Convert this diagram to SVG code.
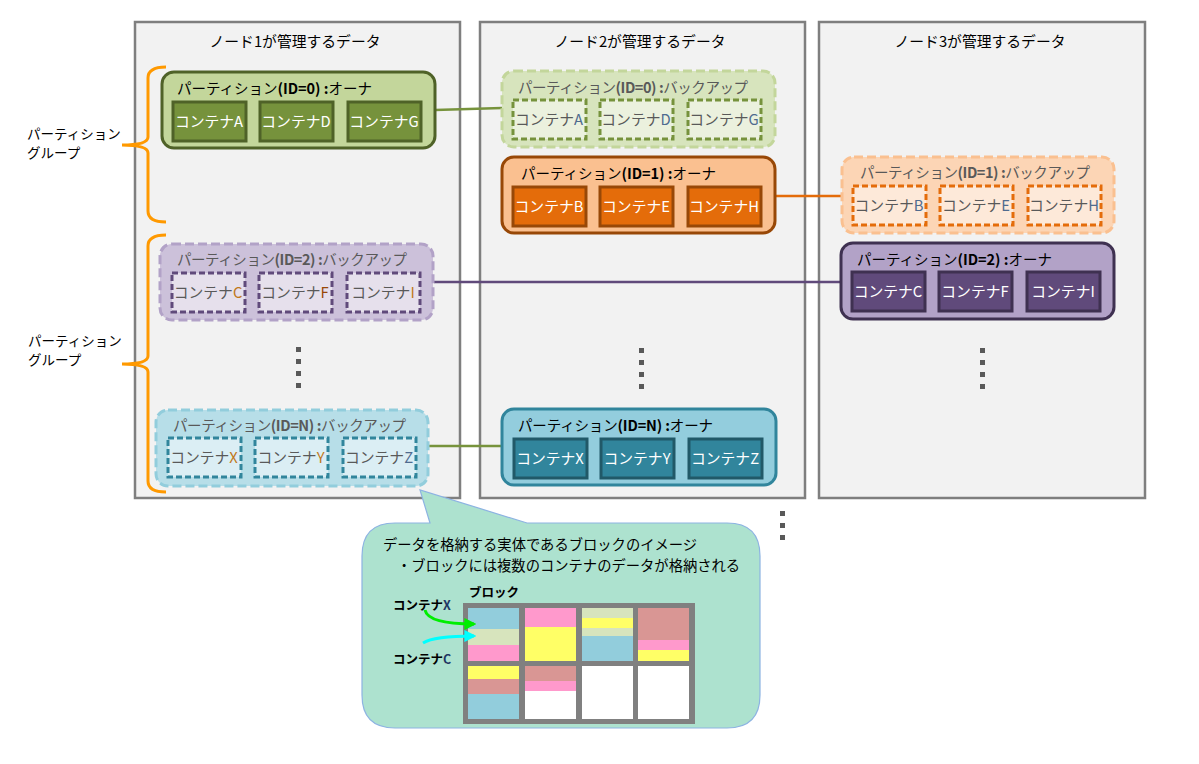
<svg xmlns="http://www.w3.org/2000/svg" width="1199" height="764" viewBox="0 0 1199 764">
<defs>
<style>
text{font-family:"Noto Sans CJK JP","Liberation Sans",sans-serif;}
.node{fill:#f2f2f2;stroke:#7f7f7f;stroke-width:2.5;}
.title{font-size:14.8px;fill:#000;text-anchor:middle;}
.plbl{font-size:14.5px;}
.own{fill:#000;}
.bak{fill:#595959;}
.ctxt{font-size:14.8px;text-anchor:middle;}
.dot{fill:#595959;}
.brk{fill:none;stroke:#ff9900;stroke-width:3;}
.side{font-size:13.5px;fill:#000;}
.link{stroke-width:2.5;fill:none;}
</style>
<marker id="ahG" viewBox="0 0 10 10" refX="8" refY="5" markerWidth="4" markerHeight="4" orient="auto"><path d="M0,0 L10,5 L0,10 z" fill="#00ee00"/></marker>
<marker id="ahC" viewBox="0 0 10 10" refX="8" refY="5" markerWidth="4" markerHeight="4" orient="auto"><path d="M0,0 L10,5 L0,10 z" fill="#00ffff"/></marker>
</defs>
<rect width="1199" height="764" fill="#fff"/>

<g id="node1"><rect class="node" x="135" y="22" width="325" height="476"/><text class="title" x="295" y="47">ノード1が管理するデータ</text></g>
<g id="node2"><rect class="node" x="480" y="22" width="325" height="476"/><text class="title" x="640" y="47">ノード2が管理するデータ</text></g>
<g id="node3"><rect class="node" x="819" y="22" width="326" height="476"/><text class="title" x="980" y="47">ノード3が管理するデータ</text></g>

<g id="connectors">
<line class="link" x1="435" y1="110" x2="502" y2="108" stroke="#77933c"/>
<line class="link" x1="776" y1="196" x2="842" y2="196" stroke="#e46c0a"/>
<line class="link" x1="434" y1="282" x2="841" y2="282" stroke="#604a7b"/>
<line class="link" x1="429" y1="446" x2="502" y2="446" stroke="#77933c"/>
</g>

<g id="part0-owner">
<rect x="162" y="72" width="273" height="76" rx="12" fill="#c3d69b" stroke="#4f6228" stroke-width="3"/>
<text class="plbl own" x="177" y="94" textLength="195" lengthAdjust="spacing">パーティション<tspan font-weight="bold">(ID=0) :</tspan>オーナ</text>
<g fill="#76923c" stroke="#4f6228" stroke-width="3">
<rect x="173" y="102" width="73" height="39"/><rect x="260" y="102" width="73" height="39"/><rect x="348" y="102" width="73" height="39"/></g>
<g fill="#fff"><text class="ctxt" x="209" y="127">コンテナA</text><text class="ctxt" x="296" y="127">コンテナD</text><text class="ctxt" x="384" y="127">コンテナG</text></g>
</g>

<g id="part0-backup">
<rect x="502" y="71" width="273" height="76" rx="12" fill="#d7e4bd" stroke="#c3d69b" stroke-width="3" stroke-dasharray="9,4"/>
<text class="plbl bak" x="518" y="93" textLength="230" lengthAdjust="spacing">パーティション<tspan font-weight="bold">(ID=0) :</tspan>バックアップ</text>
<g fill="#ebf1de" stroke="#76923c" stroke-width="3" stroke-dasharray="6,3">
<rect x="513" y="100" width="73" height="39"/><rect x="600" y="100" width="73" height="39"/><rect x="688" y="100" width="73" height="39"/></g>
<g fill="#595959"><text class="ctxt" x="549" y="125">コンテナ<tspan fill="#4f6b8f">A</tspan></text><text class="ctxt" x="636" y="125">コンテナ<tspan fill="#4f6b8f">D</tspan></text><text class="ctxt" x="724" y="125">コンテナ<tspan fill="#4f6b8f">G</tspan></text></g>
</g>

<g id="part1-owner">
<rect x="502" y="157" width="273" height="76" rx="12" fill="#fac090" stroke="#984807" stroke-width="3"/>
<text class="plbl own" x="521" y="179" textLength="195" lengthAdjust="spacing">パーティション<tspan font-weight="bold">(ID=1) :</tspan>オーナ</text>
<g fill="#e46c0a" stroke="#984807" stroke-width="3">
<rect x="513" y="187" width="73" height="39"/><rect x="600" y="187" width="73" height="39"/><rect x="688" y="187" width="73" height="39"/></g>
<g fill="#fff"><text class="ctxt" x="549" y="212">コンテナB</text><text class="ctxt" x="636" y="212">コンテナE</text><text class="ctxt" x="724" y="212">コンテナH</text></g>
</g>

<g id="part1-backup">
<rect x="842" y="157" width="272" height="76" rx="12" fill="#fcd5b5" stroke="#fac090" stroke-width="3" stroke-dasharray="9,4"/>
<text class="plbl bak" x="860" y="178" textLength="230" lengthAdjust="spacing">パーティション<tspan font-weight="bold">(ID=1) :</tspan>バックアップ</text>
<g fill="#fde9d9" stroke="#e46c0a" stroke-width="3" stroke-dasharray="6,3">
<rect x="853" y="186" width="73" height="39"/><rect x="940" y="186" width="73" height="39"/><rect x="1028" y="186" width="73" height="39"/></g>
<g fill="#595959"><text class="ctxt" x="889" y="211">コンテナ<tspan fill="#4f6b8f">B</tspan></text><text class="ctxt" x="976" y="211">コンテナ<tspan fill="#4f6b8f">E</tspan></text><text class="ctxt" x="1064" y="211">コンテナ<tspan fill="#4f6b8f">H</tspan></text></g>
</g>

<g id="part2-owner">
<rect x="841" y="243" width="273" height="76" rx="12" fill="#b2a2c7" stroke="#3f3151" stroke-width="3"/>
<text class="plbl own" x="857" y="265" textLength="195" lengthAdjust="spacing">パーティション<tspan font-weight="bold">(ID=2) :</tspan>オーナ</text>
<g fill="#604a7b" stroke="#3f3151" stroke-width="3">
<rect x="852" y="272" width="73" height="39"/><rect x="939" y="272" width="73" height="39"/><rect x="1027" y="272" width="73" height="39"/></g>
<g fill="#fff"><text class="ctxt" x="888" y="297">コンテナC</text><text class="ctxt" x="975" y="297">コンテナF</text><text class="ctxt" x="1063" y="297">コンテナI</text></g>
</g>

<g id="part2-backup">
<rect x="160" y="244" width="273" height="76" rx="12" fill="#ccc1da" stroke="#b2a2c7" stroke-width="3" stroke-dasharray="9,4"/>
<text class="plbl bak" x="177" y="265" textLength="230" lengthAdjust="spacing">パーティション<tspan font-weight="bold">(ID=2) :</tspan>バックアップ</text>
<g fill="#e6e0ec" stroke="#604a7b" stroke-width="3" stroke-dasharray="6,3">
<rect x="172" y="273" width="73" height="39"/><rect x="259" y="273" width="73" height="39"/><rect x="347" y="273" width="73" height="39"/></g>
<g fill="#595959"><text class="ctxt" x="208" y="298">コンテナ<tspan fill="#c0781a">C</tspan></text><text class="ctxt" x="295" y="298">コンテナ<tspan fill="#984807">F</tspan></text><text class="ctxt" x="383" y="298">コンテナ<tspan fill="#c0781a">I</tspan></text></g>
</g>

<g id="partN-backup">
<rect x="156" y="410" width="272" height="76" rx="12" fill="#b7dee8" stroke="#92cddc" stroke-width="3" stroke-dasharray="9,4"/>
<text class="plbl bak" x="173" y="431" textLength="233" lengthAdjust="spacing">パーティション<tspan font-weight="bold">(ID=N) :</tspan>バックアップ</text>
<g fill="#dbeef4" stroke="#31859c" stroke-width="3" stroke-dasharray="6,3">
<rect x="168" y="438" width="73" height="39"/><rect x="255" y="438" width="73" height="39"/><rect x="343" y="438" width="73" height="39"/></g>
<g fill="#595959"><text class="ctxt" x="204" y="463">コンテナ<tspan fill="#c0781a">X</tspan></text><text class="ctxt" x="291" y="463">コンテナ<tspan fill="#c0781a">Y</tspan></text><text class="ctxt" x="379" y="463">コンテナ<tspan fill="#4f6b8f">Z</tspan></text></g>
</g>

<g id="partN-owner">
<rect x="502" y="409" width="274" height="76" rx="12" fill="#93cddd" stroke="#31859c" stroke-width="3"/>
<text class="plbl own" x="518" y="431" textLength="195" lengthAdjust="spacing">パーティション<tspan font-weight="bold">(ID=N) :</tspan>オーナ</text>
<g fill="#31859c" stroke="#215968" stroke-width="3">
<rect x="514" y="439" width="73" height="39"/><rect x="601" y="439" width="73" height="39"/><rect x="689" y="439" width="73" height="39"/></g>
<g fill="#fff"><text class="ctxt" x="550" y="464">コンテナX</text><text class="ctxt" x="637" y="464">コンテナY</text><text class="ctxt" x="725" y="464">コンテナZ</text></g>
</g>

<g id="dots">
<rect class="dot" x="296" y="347" width="5" height="5"/><rect class="dot" x="296" y="359" width="5" height="5"/><rect class="dot" x="296" y="371" width="5" height="5"/><rect class="dot" x="296" y="383" width="5" height="5"/>
<rect class="dot" x="639" y="348" width="5" height="5"/><rect class="dot" x="639" y="360" width="5" height="5"/><rect class="dot" x="639" y="372" width="5" height="5"/><rect class="dot" x="639" y="384" width="5" height="5"/>
<rect class="dot" x="980" y="348" width="5" height="5"/><rect class="dot" x="980" y="360" width="5" height="5"/><rect class="dot" x="980" y="372" width="5" height="5"/><rect class="dot" x="980" y="384" width="5" height="5"/>
<rect class="dot" x="780" y="511" width="5" height="5"/><rect class="dot" x="780" y="523" width="5" height="5"/><rect class="dot" x="780" y="535" width="5" height="5"/>
</g>

<g id="group1">
<path class="brk" d="M166,67 Q148,67 148,78 L148,137 Q148,145 122,145 Q148,145 148,153 L148,211 Q148,222 166,222"/>
<text class="side" x="27" y="139">パーティション</text><text class="side" x="27" y="158">グループ</text>
</g>
<g id="group2">
<path class="brk" d="M166,235 Q148,235 148,246 L148,356 Q148,364 122,364 Q148,364 148,372 L148,481 Q148,492 166,492"/>
<text class="side" x="28" y="346">パーティション</text><text class="side" x="28" y="365">グループ</text>
</g>

<g id="callout">
<path d="M395,523 L430,523 L420,490 L527,523 L727,523 Q760,523 760,556 L760,695 Q760,728 727,728 L395,728 Q362,728 362,695 L362,556 Q362,523 395,523 Z" fill="#ade2cf" stroke="#8db3e2" stroke-width="1.2"/>
<text x="383" y="550" font-size="14.3px" fill="#000">データを格納する実体であるブロックのイメージ</text>
<text x="397" y="571" font-size="14.3px" fill="#000">・ブロックには複数のコンテナのデータが格納される</text>
<text x="469" y="597" font-size="12.5px" fill="#000" font-weight="bold">ブロック</text>
<text x="393" y="610" font-size="12.5px" fill="#000" font-weight="bold">コンテナ<tspan fill="#1f3864">X</tspan></text>
<text x="393" y="664" font-size="12.5px" fill="#000" font-weight="bold">コンテナ<tspan fill="#1f3864">C</tspan></text>
<rect x="463" y="603" width="232" height="121" fill="#808080"/>
<rect x="468" y="608" width="51" height="21" fill="#92cddc"/><rect x="468" y="629" width="51" height="16" fill="#d7e4bd"/><rect x="468" y="645" width="51" height="16" fill="#ff99cc"/>
<rect x="525" y="608" width="51" height="19" fill="#ff99cc"/><rect x="525" y="627" width="51" height="34" fill="#ffff66"/>
<rect x="582" y="608" width="51" height="10" fill="#d7e4bd"/><rect x="582" y="618" width="51" height="10" fill="#ffff66"/><rect x="582" y="628" width="51" height="8" fill="#d7e4bd"/><rect x="582" y="636" width="51" height="25" fill="#92cddc"/>
<rect x="638" y="608" width="51" height="32" fill="#d99694"/><rect x="638" y="640" width="51" height="10" fill="#ff99cc"/><rect x="638" y="650" width="51" height="11" fill="#ffff66"/>
<rect x="468" y="666" width="51" height="13" fill="#ffff66"/><rect x="468" y="679" width="51" height="15" fill="#d99694"/><rect x="468" y="694" width="51" height="25" fill="#92cddc"/>
<rect x="525" y="666" width="51" height="15" fill="#d99694"/><rect x="525" y="681" width="51" height="10" fill="#ff99cc"/><rect x="525" y="691" width="51" height="28" fill="#fff"/>
<rect x="582" y="666" width="51" height="53" fill="#fff"/><rect x="638" y="666" width="51" height="53" fill="#fff"/>
<path d="M425,610 Q428,624 474,624" fill="none" stroke="#00ee00" stroke-width="3" marker-end="url(#ahG)"/>
<path d="M423,643 Q434,636 474,636" fill="none" stroke="#00ffff" stroke-width="3" marker-end="url(#ahC)"/>
</g>
</svg>
